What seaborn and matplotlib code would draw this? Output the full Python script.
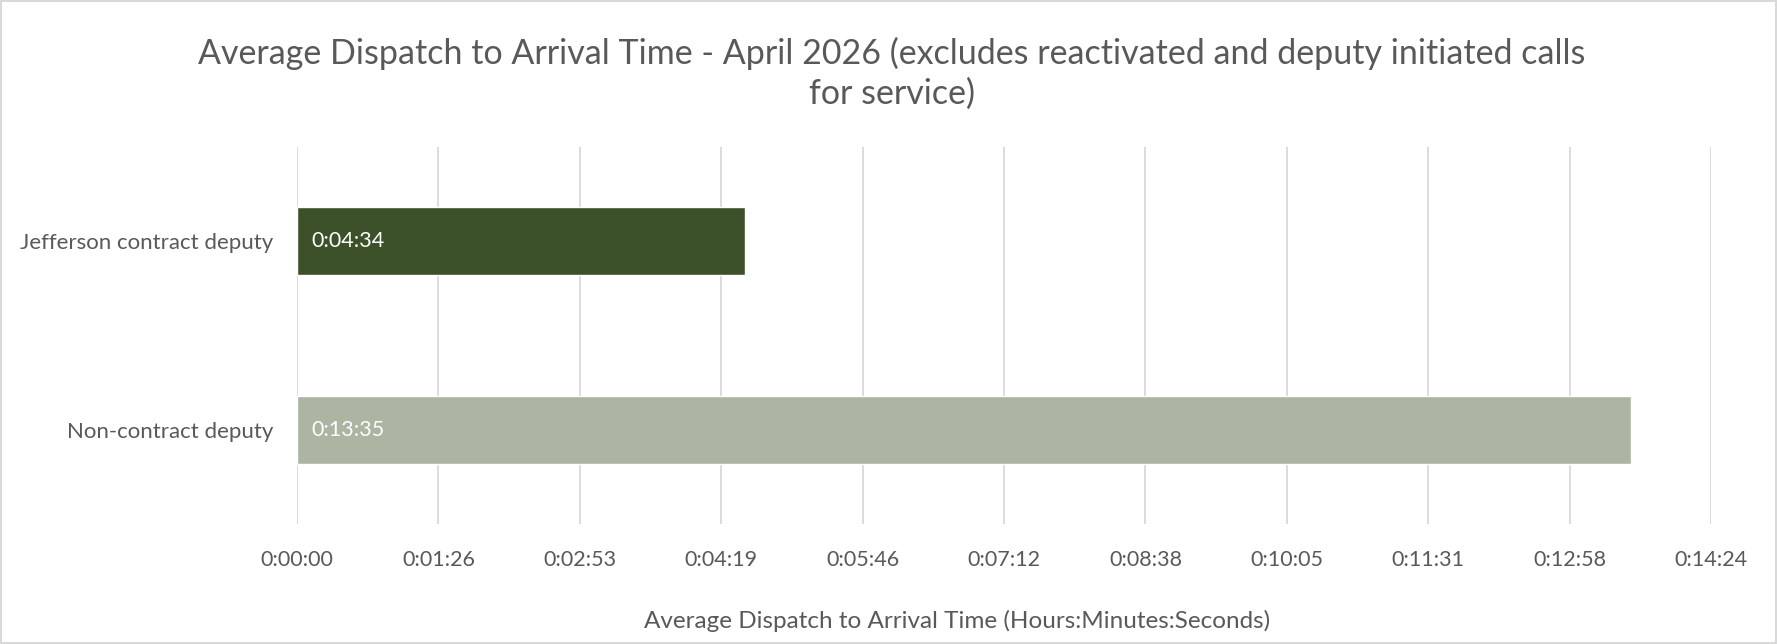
import matplotlib
matplotlib.use("Agg")
import matplotlib.pyplot as plt
import matplotlib.ticker as mticker
import pandas as pd
import seaborn as sns

# data: average dispatch-to-arrival time in seconds
categories = ["Jefferson contract deputy", "Non-contract deputy"]
seconds = [274, 815]
bar_colors = ["#3B5724", "#ABB89E"]
tick_step = 86.4   # 0.001 day, as in the original spreadsheet axis
x_max = 864

df = pd.DataFrame({"group": categories, "secs": seconds})

sns.set_style("white")
plt.rcParams["font.family"] = ["Lato", "DejaVu Sans"]


def hms(v, pos=None):
    s = int(round(v))
    return f"{s // 3600}:{(s % 3600) // 60:02d}:{s % 60:02d}"


fig = plt.figure(figsize=(17.77, 6.44), dpi=100)
fig.patch.set_edgecolor("#D9D9D9")
fig.patch.set_linewidth(1.5)
ax = fig.add_axes([0.1671, 0.1863, 0.7958, 0.5854])

sns.barplot(data=df, x="secs", y="group", hue="group", palette=bar_colors,
            orient="h", width=0.36, legend=False, ax=ax, zorder=3)

ax.set_xlim(0, x_max)
ax.set_ylim(1.5, -0.5)
ax.xaxis.set_major_locator(mticker.MultipleLocator(tick_step))
ax.xaxis.set_major_formatter(mticker.FuncFormatter(hms))
ax.grid(axis="x", color="#D9D9D9", linewidth=1.3, zorder=0)
ax.grid(axis="y", visible=False)
for sp in ax.spines.values():
    sp.set_visible(False)
ax.tick_params(axis="x", length=0, labelsize=15.5, colors="#595959", pad=19)
ax.tick_params(axis="y", length=0, labelsize=16, colors="#595959", pad=17)
ax.set_ylabel("")
ax.set_xlabel("Average Dispatch to Arrival Time (Hours:Minutes:Seconds)",
              fontsize=17.5, color="#595959")
ax.xaxis.set_label_coords(0.467, -0.228)

# value labels inside the bars
for i, v in enumerate(seconds):
    ax.text(9, i, hms(v), va="center", ha="left", fontsize=15.5,
            color="white", zorder=4)

fig.text(0.502, 0.886,
         "Average Dispatch to Arrival Time - April 2026 (excludes reactivated and deputy initiated calls\nfor service)",
         ha="center", va="center", fontsize=24.5, color="#595959", linespacing=1.28)

fig.savefig("out.png", dpi=100, edgecolor=fig.get_edgecolor())
